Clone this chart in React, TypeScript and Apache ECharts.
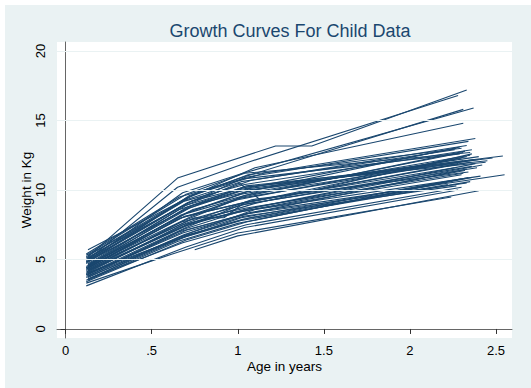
import React, { useEffect, useRef } from "react";
import * as echarts from "echarts";

// Each row is one child: visit ages (years) and matching weights (kg)
const visitAges: number[][] = [
  [0.13, 0.65, 1.22, 1.43, 2.33],
  [0.13, 0.65, 1.06, 2.28],
  [0.12, 0.68, 1.03, 2.37],
  [0.12, 0.72, 1.05, 2.31],
  [0.13, 0.70, 1.10, 2.31],
  [0.13, 0.75, 1.15, 2.38],
  [0.12, 0.70, 1.04, 2.34],
  [0.13, 0.70, 1.01, 1.13, 2.30],
  [0.12, 0.75, 0.92, 1.04, 2.35],
  [0.12, 0.62, 1.00, 2.24],
  [0.75, 1.00, 2.40],
  [0.13, 0.73, 1.05, 2.54],
  [0.12, 0.70, 1.08, 2.55],
  [0.12, 0.66, 1.02, 2.35],
  [0.13, 0.68, 1.05, 2.30],
  [0.12, 0.70, 1.04, 2.28],
  [0.13, 0.69, 1.03, 2.32],
  [0.12, 0.71, 1.06, 2.29],
  [0.13, 0.67, 1.00, 2.27],
  [0.12, 0.72, 1.09, 2.36],
  [0.13, 0.66, 1.02, 2.33],
  [0.12, 0.69, 1.04, 2.38],
  [0.14, 0.74, 1.10, 2.40],
  [0.12, 0.70, 1.02, 2.26],
  [0.13, 0.65, 1.00, 2.33],
  [0.12, 0.72, 1.07, 2.30],
  [0.13, 0.70, 1.01, 2.36],
  [0.12, 0.68, 1.05, 2.45],
  [0.13, 0.73, 1.04, 2.31],
  [0.12, 0.66, 1.03, 2.22],
  [0.13, 0.75, 1.12, 2.42],
  [0.12, 0.71, 1.08, 2.33],
  [0.13, 0.69, 1.00, 2.30],
  [0.12, 0.67, 1.02, 2.35],
  [0.14, 0.72, 1.06, 2.48],
  [0.12, 0.70, 1.05, 2.34],
  [0.13, 0.68, 1.04, 2.32],
  [0.12, 0.66, 1.03, 2.29],
  [0.13, 0.70, 1.01, 2.37],
  [0.12, 0.74, 1.10, 2.41],
  [0.13, 0.67, 1.07, 2.26],
  [0.12, 0.69, 1.04, 2.36],
  [0.13, 0.71, 1.02, 2.25],
  [0.12, 0.73, 1.05, 2.39],
  [0.13, 0.66, 1.00, 2.31],
  [0.12, 0.68, 1.06, 2.33],
  [0.13, 0.71, 1.03, 2.44],
  [0.12, 0.70, 1.08, 2.34],
  [0.13, 0.72, 1.06, 2.30],
  [0.12, 0.69, 1.01, 2.28],
  [0.13, 0.65, 1.00, 2.36],
  [0.12, 0.74, 1.09, 2.40],
  [0.13, 0.67, 1.05, 2.31],
  [0.12, 0.70, 1.04, 2.35],
  [0.13, 0.69, 1.03, 2.27],
];

const visitWeights: number[][] = [
  [5.2, 10.86, 13.17, 13.17, 17.2],
  [5.0, 10.2, 12.0, 16.8],
  [4.8, 9.8, 11.2, 15.9],
  [4.7, 9.6, 11.0, 15.8],
  [5.3, 9.4, 11.6, 14.8],
  [5.7, 9.7, 11.2, 13.7],
  [5.1, 9.0, 10.9, 13.5],
  [4.6, 8.9, 10.5, 9.3, 12.3],
  [4.4, 8.0, 8.0, 9.1, 12.0],
  [3.3, 5.4, 6.9, 9.5],
  [5.7, 6.7, 9.95],
  [4.9, 9.2, 10.2, 12.45],
  [3.9, 7.1, 8.4, 11.1],
  [4.0, 6.5, 7.8, 10.6],
  [3.6, 6.2, 7.5, 10.2],
  [3.1, 5.9, 7.3, 10.0],
  [4.3, 7.8, 9.5, 12.8],
  [4.5, 8.4, 9.9, 13.1],
  [5.0, 8.8, 10.0, 13.0],
  [4.2, 7.6, 9.0, 12.6],
  [3.8, 7.0, 8.2, 11.5],
  [4.1, 7.4, 8.6, 11.9],
  [4.6, 8.6, 9.8, 12.2],
  [5.2, 9.3, 10.6, 12.9],
  [4.4, 7.9, 9.3, 12.4],
  [3.7, 6.8, 8.0, 10.8],
  [4.0, 7.3, 8.9, 11.7],
  [4.8, 8.5, 10.3, 12.1],
  [4.5, 8.1, 9.6, 12.7],
  [3.5, 6.6, 7.9, 10.4],
  [4.2, 7.7, 8.8, 11.8],
  [4.9, 9.1, 10.7, 13.2],
  [3.9, 7.2, 8.4, 11.1],
  [4.3, 8.2, 9.7, 12.5],
  [4.7, 8.7, 10.1, 12.3],
  [3.4, 6.4, 7.7, 10.9],
  [4.1, 7.5, 8.5, 11.4],
  [5.4, 9.5, 10.8, 12.6],
  [4.6, 8.3, 9.4, 12.2],
  [3.8, 7.0, 8.6, 11.0],
  [4.4, 8.0, 9.2, 11.6],
  [5.0, 9.2, 10.4, 12.9],
  [3.6, 6.7, 8.0, 10.7],
  [4.3, 7.9, 9.0, 11.6],
  [4.7, 8.6, 9.9, 12.1],
  [3.9, 6.9, 8.3, 10.5],
  [4.5, 8.8, 10.2, 12.0],
  [4.0, 7.6, 9.3, 11.3],
  [5.1, 9.5, 11.1, 13.0],
  [4.4, 8.1, 9.0, 11.9],
  [3.5, 6.3, 7.6, 10.9],
  [4.8, 8.9, 10.0, 12.4],
  [4.2, 7.7, 8.7, 11.2],
  [5.3, 9.7, 11.2, 12.7],
  [3.7, 6.8, 8.1, 10.3],
];

const xTicks = [0, 0.5, 1, 1.5, 2, 2.5];
const xTickLabels = ["0", ".5", "1", "1.5", "2", "2.5"];
const yTicks = [0, 5, 10, 15, 20];
const yGridValues = [5, 10, 15, 20];

const FONT = "'Liberation Sans', Arial, Helvetica, sans-serif";
const LINE_COLOR = "#1a476f";
const BG = "#eaf2f3";

export default function App() {
  const ref = useRef<HTMLDivElement>(null);

  useEffect(() => {
    if (!ref.current) return;
    const chart = echarts.init(ref.current, undefined, { renderer: "svg" });

    const lineSeries = visitAges.map((ages, i) => ({
      type: "line" as const,
      name: "child" + (i + 1),
      data: ages.map((a, j) => [a, visitWeights[i][j]]),
      showSymbol: false,
      symbol: "none",
      lineStyle: { color: LINE_COLOR, width: 1.1 },
      z: 3,
      silent: true,
    }));

    const gridSeries = {
      type: "line" as const,
      name: "grid",
      data: [],
      z: 1,
      silent: true,
      markLine: {
        silent: true,
        symbol: ["none", "none"],
        label: { show: false },
        lineStyle: { color: BG, width: 1, type: "solid" as const },
        data: yGridValues.map((v) => ({ yAxis: v })),
      },
    };

    chart.setOption({
      animation: false,
      backgroundColor: "#ffffff",
      graphic: [
        {
          type: "rect",
          shape: { x: 5, y: 5, width: 531, height: 388 },
          style: { fill: BG },
          z: -10,
          silent: true,
        },
      ],
      title: {
        text: "Growth Curves For Child Data",
        left: 285,
        top: 17,
        textAlign: "center",
        textStyle: {
          fontFamily: FONT,
          fontSize: 18,
          fontWeight: "normal",
          color: LINE_COLOR,
        },
      },
      grid: {
        left: 57,
        right: 19,
        top: 42,
        bottom: 50,
        show: true,
        backgroundColor: "#ffffff",
        borderWidth: 0,
        containLabel: false,
      },
      xAxis: {
        type: "value",
        min: -0.05,
        max: 2.593,
        name: "Age in years",
        nameLocation: "middle",
        nameGap: 21,
        nameMoveOverlap: false,
        nameTextStyle: { fontFamily: FONT, fontSize: 13.5, color: "#000" },
        axisLine: { show: true, lineStyle: { color: "#666", width: 1 } },
        axisTick: {
          show: true,
          length: 5,
          lineStyle: { color: "#333" },
          customValues: xTicks,
        },
        axisLabel: {
          fontFamily: FONT,
          fontSize: 13,
          color: "#000",
          margin: 6,
          customValues: xTicks,
          formatter: (v: number) => {
            const k = xTicks.findIndex((t) => Math.abs(t - v) < 1e-6);
            return k >= 0 ? xTickLabels[k] : "";
          },
        },
        splitLine: { show: false },
      },
      yAxis: {
        type: "value",
        min: -0.65,
        max: 20.65,
        name: "Weight in Kg",
        nameLocation: "middle",
        nameGap: 24,
        nameMoveOverlap: false,
        nameTextStyle: { fontFamily: FONT, fontSize: 13.5, color: "#000" },
        axisLine: { show: true, lineStyle: { color: "#666", width: 1 } },
        axisTick: {
          show: true,
          length: 5,
          lineStyle: { color: "#333" },
          customValues: yTicks,
        },
        axisLabel: {
          fontFamily: FONT,
          fontSize: 13,
          color: "#000",
          rotate: 90,
          margin: 10,
          customValues: yTicks,
          formatter: (v: number) => String(v),
        },
        splitLine: { show: false },
      },
      series: [gridSeries, ...lineSeries],
    });

    return () => chart.dispose();
  }, []);

  return (
    <div
      ref={ref}
      style={{ position: "fixed", left: 0, top: 0, width: 531, height: 388 }}
    />
  );
}
